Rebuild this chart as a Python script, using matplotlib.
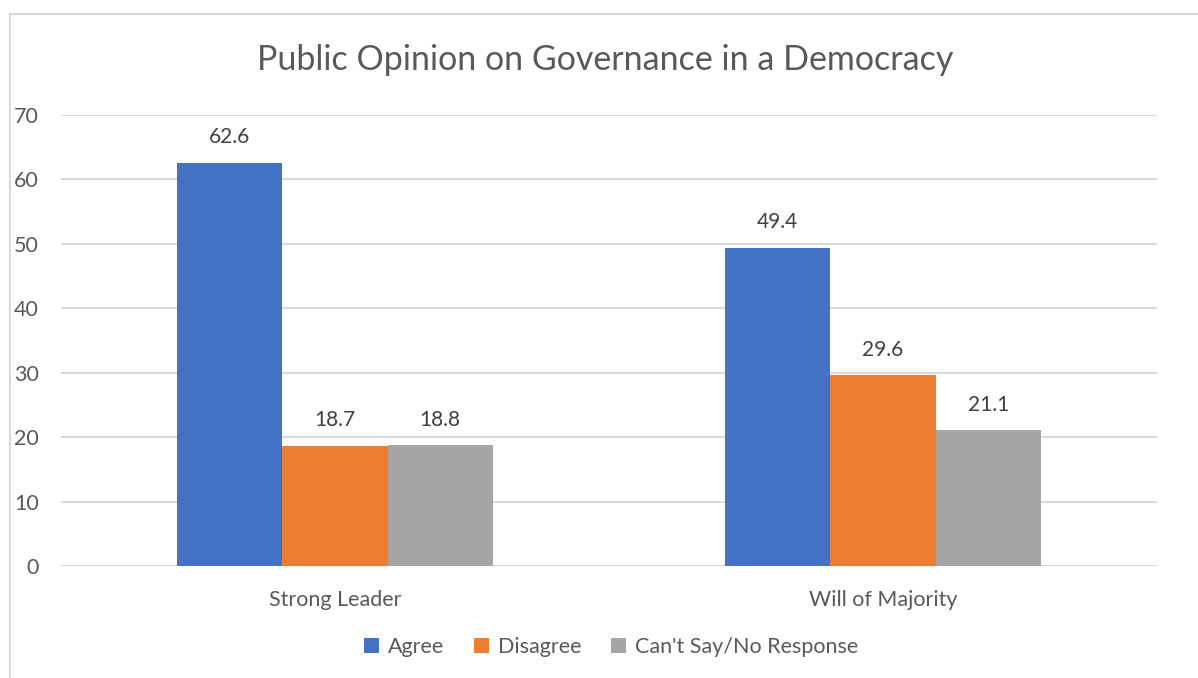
import matplotlib
matplotlib.use("Agg")
import matplotlib.pyplot as plt
from matplotlib.lines import Line2D
import numpy as np

plt.rcParams['font.family'] = ['Lato', 'DejaVu Sans']

categories = ["Strong Leader", "Will of Majority"]
series_names = ["Agree", "Disagree", "Can't Say/No Response"]
agree = [62.6, 49.4]
disagree = [18.7, 29.6]
cant_say = [18.8, 21.1]
series_values = [agree, disagree, cant_say]
colors = ["#4472C4", "#ED7D31", "#A5A5A5"]
y_ticks = [0, 10, 20, 30, 40, 50, 60, 70]

text_color = "#595959"
grid_color = "#D9D9D9"

fig = plt.figure(figsize=(11.98, 6.78), dpi=100)
ax = fig.add_axes([61 / 1198, 1 - 566 / 678, (1157 - 61) / 1198, (566 - 115) / 678])

x = np.arange(len(categories))
width = 0.192
offsets = [-width, 0, width]
for name, vals, col, off in zip(series_names, series_values, colors, offsets):
    bars = ax.bar(x + off, vals, width=width, color=col, label=name, zorder=3)
    for b, v in zip(bars, vals):
        ax.annotate(f"{v:.1f}", (b.get_x() + b.get_width() / 2, v),
                    xytext=(0, 11), textcoords="offset points",
                    ha="center", va="bottom", fontsize=15, color="#404040")

ax.set_xlim(-0.5, len(categories) - 0.5)
ax.set_ylim(0, 70)
ax.set_yticks(y_ticks)
ax.set_xticks(x)
ax.set_xticklabels(categories)
ax.tick_params(axis="both", length=0, labelsize=15.5, labelcolor=text_color)
ax.tick_params(axis="y", pad=16)
ax.tick_params(axis="x", pad=17)
ax.grid(axis="y", color=grid_color, linewidth=1.5, zorder=0)
for s in ax.spines.values():
    s.set_visible(False)

fig.text(605 / 1198, 1 - 60 / 678, "Public Opinion on Governance in a Democracy",
         ha="center", va="center", fontsize=24.5, color=text_color)

leg = fig.legend(loc="center", bbox_to_anchor=(611 / 1198, 1 - 647 / 678), ncol=3,
                 frameon=False, fontsize=15.5, handlelength=0.7, handleheight=0.7,
                 columnspacing=1.4, handletextpad=0.4, labelcolor=text_color)

# chart frame
fig.add_artist(Line2D([10 / 1198, 1], [1 - 14 / 678] * 2, transform=fig.transFigure,
                      color="#D9D9D9", linewidth=1.5))
fig.add_artist(Line2D([10 / 1198] * 2, [0, 1 - 14 / 678], transform=fig.transFigure,
                      color="#D9D9D9", linewidth=1.5))

fig.savefig("out.png", dpi=100, facecolor="white")
